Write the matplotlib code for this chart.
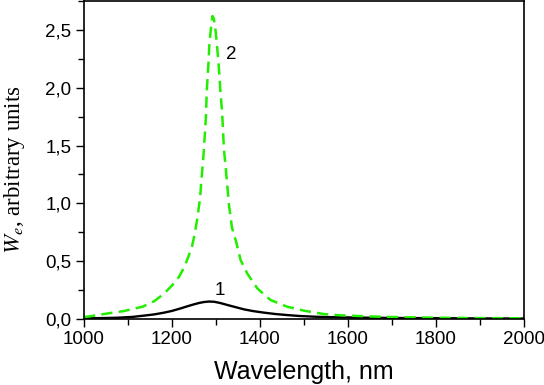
import matplotlib
matplotlib.use("Agg")
import matplotlib.pyplot as plt
from matplotlib.ticker import MultipleLocator, FuncFormatter

# Curve 1 (black, solid)
wl1 = [1000, 1040, 1076, 1110, 1136, 1160, 1182, 1200, 1220, 1235, 1250, 1262, 1273, 1284, 1296,
       1310, 1326, 1345, 1364, 1385, 1409, 1435, 1462, 1490, 1523, 1560, 1591, 1650, 1700, 1800, 1900, 2000]
we1 = [0.005, 0.008, 0.011, 0.018, 0.029, 0.040, 0.055, 0.070, 0.092, 0.110, 0.127, 0.139, 0.147, 0.151, 0.149,
       0.138, 0.121, 0.102, 0.083, 0.068, 0.055, 0.043, 0.034, 0.026, 0.020, 0.016, 0.014, 0.011, 0.009, 0.007, 0.005, 0.004]

# Curve 2 (green, dashed)
wl2 = [1000, 1008, 1045, 1091, 1133, 1160, 1182, 1200, 1216, 1228, 1237, 1245, 1251, 1258, 1264, 1267, 1271,
       1274, 1277, 1279, 1283, 1285, 1289, 1292, 1295, 1298, 1302, 1307, 1310, 1314, 1318, 1322, 1326,
       1330, 1336, 1341, 1345, 1356, 1371, 1394, 1424, 1462, 1500, 1545, 1583, 1650, 1700, 1800, 1900, 2000]
we2 = [0.018, 0.020, 0.043, 0.069, 0.106, 0.155, 0.220, 0.290, 0.365, 0.450, 0.537, 0.620, 0.724, 0.880, 1.054, 1.21, 1.385,
       1.56, 1.74, 1.97, 2.22, 2.38, 2.53, 2.62, 2.60, 2.53, 2.38, 2.15, 1.97, 1.78, 1.47, 1.31, 1.14,
       0.97, 0.80, 0.72, 0.68, 0.509, 0.394, 0.264, 0.164, 0.106, 0.072, 0.043, 0.032, 0.022, 0.017, 0.011, 0.008, 0.006]

curve_labels = ["1", "2"]

plt.rcParams['mathtext.fontset'] = 'stix'

fig = plt.figure(figsize=(5.44, 3.85), dpi=100)
ax = fig.add_axes([84/544, (385-319)/385, (524-84)/544, 318/385])

ax.plot(wl1, we1, color='black', lw=1.7, solid_joinstyle='round')
ax.plot(wl2, we2, color='#22ee00', lw=1.8, linestyle=(0, (4.5, 2.5)))

ax.set_xlim(1000, 2000)
ax.set_ylim(0, 2.75)
ax.xaxis.set_major_locator(MultipleLocator(200))
ax.xaxis.set_minor_locator(MultipleLocator(100))
ax.yaxis.set_major_locator(MultipleLocator(0.5))
ax.yaxis.set_minor_locator(MultipleLocator(0.25))
ax.yaxis.set_major_formatter(FuncFormatter(lambda v, p: f"{v:.1f}".replace('.', ',')))

ax.tick_params(axis='both', which='major', direction='out', length=6, width=1,
               labelsize=13.5, pad=3)
ax.tick_params(axis='both', which='minor', direction='out', length=4, width=1)
for lab in ax.get_xticklabels() + ax.get_yticklabels():
    lab.set_family('Liberation Sans')
for s in ax.spines.values():
    s.set_linewidth(1.2)

ax.set_xlabel('Wavelength, nm', family='Liberation Sans', fontsize=18, labelpad=8)
ax.set_ylabel(r'$W_e$, arbitrary units', family='Liberation Serif', fontsize=16.5)
ax.yaxis.set_label_coords(-0.13, 0.47)

ax.text(1309, 0.25, curve_labels[0], family='Liberation Sans', fontsize=13.5, ha='center', va='center')
ax.text(1334, 2.29, curve_labels[1], family='Liberation Sans', fontsize=13.5, ha='center', va='center')

fig.savefig('out.png', dpi=100)
